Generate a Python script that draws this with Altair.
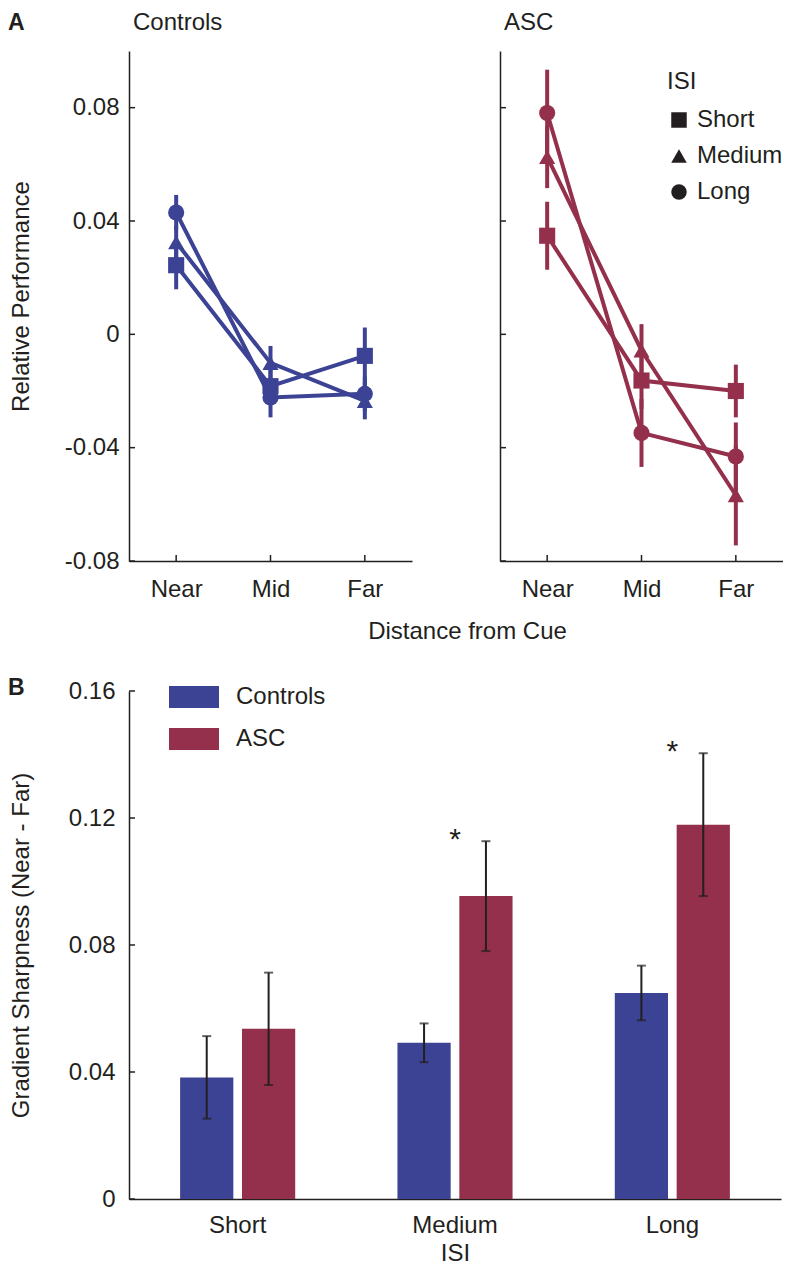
import altair as alt
import pandas as pd

# ---------------- data ----------------
distances = ["Near", "Mid", "Far"]
isi_levels = ["Short", "Medium", "Long"]
groups = ["Controls", "ASC"]

# Panel A - Controls (relative performance by distance, one list per ISI)
ctrl_short = [0.0244, -0.0183, -0.0076]
ctrl_medium = [0.0325, -0.0101, -0.0235]
ctrl_long = [0.0430, -0.0223, -0.0210]
ctrl_short_se = [0.0085, 0.0060, 0.0100]
ctrl_medium_se = [0.0060, 0.0060, 0.0065]
ctrl_long_se = [0.0062, 0.0070, 0.0060]

# Panel A - ASC
asc_short = [0.0348, -0.0163, -0.0200]
asc_medium = [0.0626, -0.0057, -0.0568]
asc_long = [0.0781, -0.0348, -0.0431]
asc_short_se = [0.0120, 0.0100, 0.0093]
asc_medium_se = [0.0110, 0.0093, 0.0177]
asc_long_se = [0.0153, 0.0120, 0.0120]

# Panel B - gradient sharpness (Near - Far)
sharp_controls = [0.0383, 0.0492, 0.0649]
sharp_asc = [0.0536, 0.0954, 0.1179]
sharp_controls_se = [0.0130, 0.0061, 0.0086]
sharp_asc_se = [0.0177, 0.0173, 0.0225]
significant = ["", "*", "*"]

perf_ticks = [-0.08, -0.04, 0, 0.04, 0.08]
sharp_ticks = [0, 0.04, 0.08, 0.12, 0.16]

# ---------------- style ----------------
BLUE = "#3c4394"
RED = "#94304b"
INK = "#231f20"
FONT = "Liberation Sans"
W_A, H_A = 283, 510
W_B, H_B = 652, 508
LEFT = -121  # left edge of the panel letters / axis titles
LABEL_EXPR = ("datum.value == 0 ? '0' : (datum.value < 0 ? '-' : '') + "
              "format(abs(datum.value), '.2f')")


def perf_frame(means, ses, panel):
    rows = []
    for isi, m_list, s_list in zip(isi_levels, means, ses):
        for i, (d, m, s) in enumerate(zip(distances, m_list, s_list)):
            rows.append({"Distance": d, "idx": i, "ISI": isi, "value": m,
                         "lo": m - s, "hi": m + s, "panel": panel})
    return pd.DataFrame(rows)


ctrl_df = perf_frame([ctrl_short, ctrl_medium, ctrl_long],
                     [ctrl_short_se, ctrl_medium_se, ctrl_long_se], "Controls")
asc_df = perf_frame([asc_short, asc_medium, asc_long],
                    [asc_short_se, asc_medium_se, asc_long_se], "ASC")
perf_tick_df = pd.DataFrame({"value": perf_ticks})
dist_df = pd.DataFrame({"Distance": distances})


def text_layer(label, size, weight, x, y, baseline="alphabetic"):
    return alt.Chart(pd.DataFrame({"label": [label]})).mark_text(
        fontSize=size, fontWeight=weight, font=FONT, color=INK, align="left",
        baseline=baseline).encode(text="label:N", x=alt.value(x), y=alt.value(y))


def perf_panel(df, color, title_text, is_left):
    x_axis_kw = dict(ticks=False, labelAngle=0, labelPadding=16, domainWidth=1.5,
                     grid=False)
    y_axis_kw = dict(values=perf_ticks, ticks=False, domainWidth=1.5, grid=False)
    if is_left:
        x_axis_kw.update(title="Distance from Cue", titleX=338, titleY=58,
                         titleBaseline="top", titleAlign="center")
        y_axis_kw.update(labelExpr=LABEL_EXPR, labelPadding=10,
                         title="Relative Performance", titleX=LEFT + 13, titleY=245,
                         titleBaseline="middle", titleAngle=270, titleAlign="center")
    else:
        x_axis_kw.update(title=None)
        y_axis_kw.update(labels=False, title=None)

    xscale = alt.Scale(type="point", padding=0.5, domain=distances)
    yscale = alt.Scale(domain=[-0.08, 0.1], nice=False, zero=False)
    x = alt.X("Distance:N", sort=distances, scale=xscale, axis=alt.Axis(**x_axis_kw))
    yaxis = alt.Axis(**y_axis_kw)

    base = alt.Chart(df)
    err = base.mark_rule(color=color, strokeWidth=4).encode(
        x=x, y=alt.Y("lo:Q", scale=yscale, axis=yaxis), y2="hi:Q", detail="ISI:N")
    lines = base.mark_line(color=color, strokeWidth=4).encode(
        x=x, y=alt.Y("value:Q", scale=yscale, axis=yaxis), detail="ISI:N",
        order="idx:Q")
    if is_left:
        legend = None
    else:
        legend = alt.Legend(title="ISI", orient="none", legendX=167, legendY=19,
                            symbolFillColor=INK, symbolStrokeColor=INK,
                            symbolStrokeWidth=0, symbolSize=240, symbolOpacity=1,
                            labelFontSize=24, titleFontSize=24,
                            titleFontWeight="normal", rowPadding=12,
                            titlePadding=14, labelOffset=6, padding=0)
    points = base.mark_point(filled=True, opacity=1, size=260).encode(
        x=x, y=alt.Y("value:Q", scale=yscale, axis=yaxis),
        color=alt.Color("panel:N", scale=alt.Scale(domain=[title_text], range=[color]),
                        legend=None),
        shape=alt.Shape("ISI:N", sort=isi_levels,
                        scale=alt.Scale(domain=isi_levels,
                                        range=["square", "triangle-up", "circle"]),
                        legend=legend))
    yticks = alt.Chart(perf_tick_df).mark_rule(color=INK, strokeWidth=1.5).encode(
        y=alt.Y("value:Q", scale=yscale, axis=yaxis),
        x=alt.value(0), x2=alt.value(6))
    xticks = alt.Chart(dist_df).mark_rule(color=INK, strokeWidth=1.5).encode(
        x=x, y=alt.value(H_A), y2=alt.value(H_A - 6))
    layers = [err, lines, points, yticks, xticks,
              text_layer(title_text, 24, "normal", 4, -21)]
    if is_left:
        layers.append(text_layer("A", 23, "bold", LEFT, -21))
    return alt.layer(*layers).properties(width=W_A, height=H_A)


left = perf_panel(ctrl_df, BLUE, "Controls", True)
right = perf_panel(asc_df, RED, "ASC", False)
top = alt.hconcat(left, right, spacing=88, bounds="flush").resolve_scale(
    shape="independent", color="independent").resolve_legend(
    shape="independent", color="independent")

# ---------------- panel B ----------------
rows = []
for g, means, ses in zip(groups, [sharp_controls, sharp_asc],
                         [sharp_controls_se, sharp_asc_se]):
    for isi, m, s in zip(isi_levels, means, ses):
        rows.append({"ISI": isi, "Group": g, "value": m, "lo": m - s, "hi": m + s})
bar_df = pd.DataFrame(rows)
star_df = pd.DataFrame({"ISI": isi_levels, "star": significant,
                        "hi": [m + s for m, s in zip(sharp_asc, sharp_asc_se)]})
star_df = star_df[star_df["star"] != ""]
sharp_tick_df = pd.DataFrame({"value": sharp_ticks})

xB = alt.X("ISI:N", sort=isi_levels,
           scale=alt.Scale(domain=isi_levels, paddingInner=0, paddingOuter=0),
           axis=alt.Axis(ticks=False, labelAngle=0, labelPadding=14, title="ISI",
                         titlePadding=4, domainWidth=1.5, grid=False))
xoff = alt.XOffset("Group:N", sort=groups,
                   scale=alt.Scale(domain=groups, paddingInner=0.14, paddingOuter=0.826))
yBscale = alt.Scale(domain=[0, 0.16], nice=False, zero=True)
yBaxis = alt.Axis(values=sharp_ticks, ticks=False, labelExpr=LABEL_EXPR,
                  labelPadding=14, title="Gradient Sharpness (Near - Far)",
                  titleX=LEFT + 13, titleY=H_B / 2, titleBaseline="middle",
                  titleAngle=270, titleAlign="center", domainWidth=1.5, grid=False)

RECT_PATH = "M-1,-0.44L1,-0.44L1,0.44L-1,0.44Z"
bars = alt.Chart(bar_df).mark_bar().encode(
    x=xB, xOffset=xoff, y=alt.Y("value:Q", scale=yBscale, axis=yBaxis),
    color=alt.Color("Group:N", sort=groups,
                    scale=alt.Scale(domain=groups, range=[BLUE, RED]),
                    legend=alt.Legend(title=None, orient="none", legendX=40,
                                      legendY=-6, symbolType=RECT_PATH,
                                      symbolSize=2500, symbolStrokeWidth=0,
                                      symbolOpacity=1, labelOffset=17,
                                      clipHeight=24, rowPadding=18, padding=0,
                                      labelFontSize=24)))
err_b = alt.Chart(bar_df).mark_rule(color=INK, strokeWidth=2).encode(
    x=xB, xOffset=xoff, y=alt.Y("lo:Q", scale=yBscale, axis=yBaxis), y2="hi:Q")
cap_lo = alt.Chart(bar_df).mark_tick(color=INK, thickness=2, size=9).encode(
    x=xB, xOffset=xoff, y=alt.Y("lo:Q", scale=yBscale, axis=yBaxis))
cap_hi = alt.Chart(bar_df).mark_tick(color=INK, thickness=2, size=9).encode(
    x=xB, xOffset=xoff, y=alt.Y("hi:Q", scale=yBscale, axis=yBaxis))
stars = alt.Chart(star_df).mark_text(fontSize=30, font=FONT, color=INK,
                                     baseline="alphabetic", dy=8).encode(
    x=xB, y=alt.Y("hi:Q", scale=yBscale, axis=yBaxis), text="star:N")
yticksB = alt.Chart(sharp_tick_df).mark_rule(color=INK, strokeWidth=1.5).encode(
    y=alt.Y("value:Q", scale=yBscale, axis=yBaxis), x=alt.value(0), x2=alt.value(6))
tagB = text_layer("B", 23, "bold", LEFT, -3, baseline="middle")

bottom = alt.layer(bars, err_b, cap_lo, cap_hi, stars, yticksB, tagB).properties(
    width=W_B, height=H_B)

chart = alt.vconcat(top, bottom, spacing=34).resolve_scale(
    color="independent", shape="independent").resolve_legend(
    color="independent", shape="independent").properties(
    padding={"top": 3, "left": 0, "right": 0, "bottom": 0}).configure_view(
    strokeWidth=0
).configure_axis(
    labelFont=FONT, titleFont=FONT, labelFontSize=24, titleFontSize=24,
    labelColor=INK, titleColor=INK, domainColor=INK, titleFontWeight="normal"
).configure_legend(
    labelFont=FONT, titleFont=FONT, labelColor=INK, titleColor=INK
)

chart.save("out.html", embed_options={"renderer": "svg", "actions": False})
